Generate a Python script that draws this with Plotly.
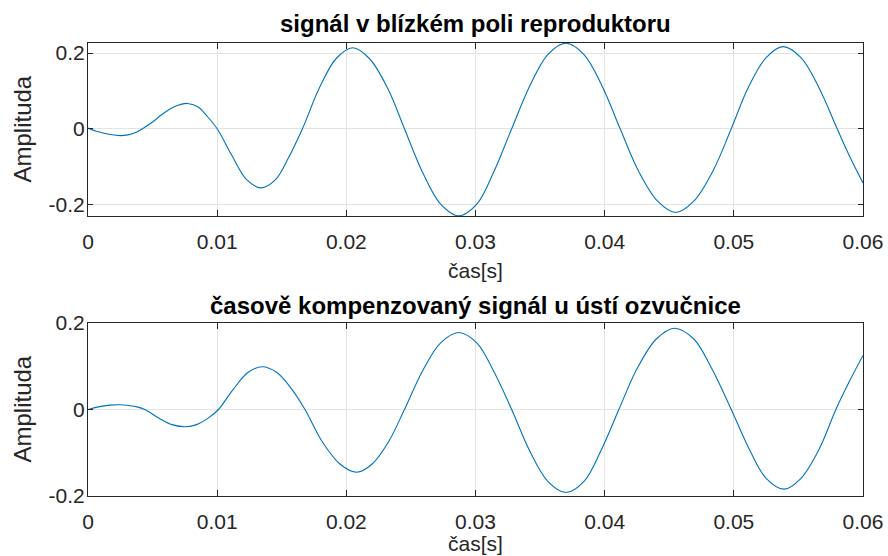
import plotly.graph_objects as go

# ---- data ----
t_near = [0, 0.0008, 0.0017, 0.0025, 0.0031, 0.0037, 0.0044,
          0.0050, 0.0057, 0.0066, 0.0077, 0.0085, 0.0092, 0.0100,
          0.0111, 0.0123, 0.0134, 0.0145, 0.0155, 0.0166,
          0.0179, 0.0192, 0.0205, 0.0218, 0.0232, 0.0245,
          0.0259, 0.0273, 0.0287, 0.0301, 0.0314, 0.0328,
          0.0342, 0.0356, 0.0370, 0.0384, 0.0398, 0.0412,
          0.0426, 0.0441, 0.0455, 0.0469, 0.0484, 0.0498,
          0.0511, 0.0525, 0.0538, 0.0552, 0.0566, 0.0580,
          0.0590, 0.0600]
amp_near = [0.002, -0.008, -0.015, -0.018, -0.016, -0.010, 0.004,
            0.018, 0.037, 0.057, 0.067, 0.058, 0.034, 0.000,
            -0.068, -0.135, -0.156, -0.135, -0.078, 0.000,
            0.107, 0.185, 0.214, 0.185, 0.107, 0.000,
            -0.115, -0.199, -0.230, -0.199, -0.115, 0.000,
            0.113, 0.196, 0.226, 0.196, 0.113, 0.000,
            -0.110, -0.191, -0.221, -0.191, -0.110, 0.000,
            0.108, 0.188, 0.217, 0.188, 0.108, 0.000,
            -0.075, -0.143]

t_comp = [0, 0.0008, 0.0017, 0.0025, 0.0032, 0.0038, 0.0044,
          0.0055, 0.0065, 0.0076, 0.0084, 0.0093, 0.0101,
          0.0112, 0.0124, 0.0135, 0.0146, 0.0157, 0.0168,
          0.0181, 0.0195, 0.0208, 0.0220, 0.0233, 0.0245,
          0.0259, 0.0273, 0.0287, 0.0301, 0.0314, 0.0328,
          0.0342, 0.0356, 0.0370, 0.0384, 0.0397, 0.0411,
          0.0425, 0.0440, 0.0454, 0.0469, 0.0483, 0.0498,
          0.0512, 0.0525, 0.0539, 0.0552, 0.0566, 0.0579,
          0.0590, 0.0600]
amp_comp = [0.000, 0.006, 0.010, 0.011, 0.009, 0.006, 0.000,
            -0.020, -0.035, -0.040, -0.035, -0.020, 0.000,
            0.045, 0.086, 0.099, 0.086, 0.050, 0.000,
            -0.073, -0.126, -0.145, -0.126, -0.073, 0.000,
            0.089, 0.154, 0.178, 0.154, 0.089, 0.000,
            -0.096, -0.166, -0.192, -0.166, -0.096, 0.000,
            0.094, 0.163, 0.188, 0.163, 0.094, 0.000,
            -0.092, -0.159, -0.184, -0.159, -0.092, 0.000,
            0.068, 0.125]

x_ticks = [0, 0.01, 0.02, 0.03, 0.04, 0.05, 0.06]
x_tick_labels = ["0", "0.01", "0.02", "0.03", "0.04", "0.05", "0.06"]
y_ticks_top = [-0.2, 0, 0.2]
y_ticks_bot = [-0.2, 0, 0.2]
tick_labels_y = ["-0.2", "0", "0.2"]

title_top = "signál v blízkém poli reproduktoru"
title_bot = "časově kompenzovaný signál u ústí ozvučnice"
x_label = "čas[s]"
y_label = "Amplituda"

# ---- layout geometry ----
W, H = 888, 556
FONT = "Arial, Liberation Sans, Helvetica, sans-serif"
AXC = "#262626"
GRID = "#e3e3e3"
LINE = "#0072BD"

x_left, x_right = 88, 863
top_y0, top_y1 = 43, 216
bot_y0, bot_y1 = 323, 496

def px_x(v):
    return v / W

def px_y(v):
    return 1 - v / H

fig = go.Figure()
fig.add_trace(go.Scatter(x=t_near, y=amp_near, mode="lines",
                         line=dict(color=LINE, width=1.1, shape="spline", smoothing=1.0),
                         xaxis="x", yaxis="y", showlegend=False))
fig.add_trace(go.Scatter(x=t_comp, y=amp_comp, mode="lines",
                         line=dict(color=LINE, width=1.1, shape="spline", smoothing=1.0),
                         xaxis="x2", yaxis="y2", showlegend=False))

common_x = dict(range=[0, 0.06], tickvals=x_ticks, ticktext=x_tick_labels,
                showgrid=True, gridcolor=GRID, gridwidth=1, zeroline=False,
                showline=True, linecolor=AXC, linewidth=1, mirror="ticks",
                ticks="inside", ticklen=6, tickcolor=AXC, tickwidth=1,
                tickfont=dict(family=FONT, size=21, color=AXC), automargin=False,
                ticklabelstandoff=7, domain=[px_x(x_left), px_x(x_right)])
common_y = dict(showgrid=True, gridcolor=GRID, gridwidth=1, zeroline=False,
                showline=True, linecolor=AXC, linewidth=1, mirror="ticks",
                ticks="inside", ticklen=5, tickcolor=AXC, tickwidth=1,
                tickfont=dict(family=FONT, size=21, color=AXC), automargin=False,
                ticklabelstandoff=-2)

fig.update_layout(
    width=W, height=H, margin=dict(l=0, r=0, t=0, b=0, autoexpand=False),
    paper_bgcolor="white", plot_bgcolor="white",
    xaxis=dict(**common_x, anchor="y"),
    yaxis=dict(**common_y, range=[-0.2303, 0.2266], tickvals=y_ticks_top, ticktext=tick_labels_y,
               domain=[px_y(top_y1), px_y(top_y0)], anchor="x"),
    xaxis2=dict(**common_x, anchor="y2"),
    yaxis2=dict(**common_y, range=[-0.2, 0.2], tickvals=y_ticks_bot, ticktext=tick_labels_y,
                domain=[px_y(bot_y1), px_y(bot_y0)], anchor="x2"),
)

cx = px_x((x_left + x_right) / 2)
ann = []
for ty, tl, ay, ycenter in [(24, title_top, 270, (top_y0 + top_y1) / 2),
                             (305, title_bot, 543, (bot_y0 + bot_y1) / 2)]:
    ann.append(dict(x=cx, y=px_y(ty), xref="paper", yref="paper", text="<b>%s</b>" % tl,
                    showarrow=False, xanchor="center", yanchor="middle",
                    font=dict(family=FONT, size=24, color="black")))
    ann.append(dict(x=cx, y=px_y(ay), xref="paper", yref="paper", text=x_label,
                    showarrow=False, xanchor="center", yanchor="middle",
                    font=dict(family=FONT, size=21, color=AXC)))
    ann.append(dict(x=px_x(22), y=px_y(ycenter), xref="paper", yref="paper", text=y_label,
                    showarrow=False, xanchor="center", yanchor="middle", textangle=-90,
                    font=dict(family=FONT, size=24, color=AXC)))
fig.update_layout(annotations=ann)

fig.write_html("out.html", config={"displayModeBar": False},
               post_script="document.body.style.margin='0';")
